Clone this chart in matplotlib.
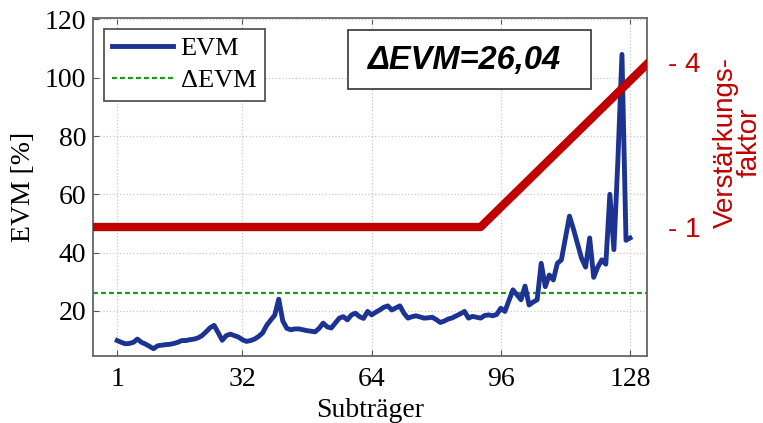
import matplotlib
matplotlib.use("Agg")
import matplotlib.pyplot as plt
from matplotlib.patches import Rectangle

# EVM per subcarrier
subcarriers = list(range(1, 129))
evm = [
    9.8, 9.2, 8.7, 8.8, 9.2, 10.3, 9.2, 8.6, 7.8, 7.0,
    8.0, 8.2, 8.4, 8.5, 8.8, 9.2, 9.8, 9.8, 10.1, 10.3,
    10.7, 11.5, 12.8, 14.2, 15.0, 12.5, 9.9, 11.5, 12.0, 11.5,
    11.0, 10.1, 9.5, 9.8, 10.3, 11.2, 12.4, 15.0, 16.8, 18.5,
    24.0, 16.5, 14.0, 13.5, 13.8, 13.8, 13.5, 13.2, 13.0, 12.8,
    14.0, 15.8, 14.5, 14.1, 15.8, 17.5, 18.0, 16.9, 18.6, 19.2,
    18.0, 17.4, 19.8, 18.6, 19.5, 20.3, 21.2, 21.7, 20.3, 21.0,
    21.7, 19.2, 17.5, 18.0, 18.3, 17.9, 17.5, 17.6, 17.8, 17.0,
    16.0, 16.5, 17.2, 17.6, 18.3, 19.0, 19.8, 17.5, 18.1, 17.8,
    17.5, 18.4, 18.6, 18.3, 18.8, 20.9, 19.8, 23.5, 27.2, 25.5,
    23.8, 28.5, 22.0, 23.0, 23.8, 36.3, 28.3, 32.3, 30.6, 36.3,
    37.5, 45.0, 52.5, 48.0, 43.0, 38.0, 35.0, 45.0, 31.5, 35.0,
    37.5, 36.0, 60.0, 41.0, 72.0, 108.0, 44.2, 45.0,
]
delta_evm = 26.04

# gain factor (right axis): flat, then rising
gain_x = [-10, 91, 133]
gain_y = [1, 1, 4.02]

xticks = [1, 32, 64, 96, 128]
yticks = [20, 40, 60, 80, 100, 120]
gain_ticks = [1, 4]
gain_ticklabels = ["- 1", "- 4"]

serif = ["Liberation Serif", "DejaVu Serif"]
sans = ["Liberation Sans", "DejaVu Sans"]
red = "#c00000"
blue = "#1c3391"

fig = plt.figure(figsize=(7.63, 4.23), dpi=100)
ax = fig.add_axes([93 / 763, 1 - 356 / 423, (647 - 93) / 763, (356 - 18) / 423])

ax.plot(subcarriers, evm, color=blue, lw=3.5, label="EVM", zorder=3)
ax.axhline(delta_evm, color="#1a9a1a", lw=1.6, ls=(0, (2.2, 1.4)), label="ΔEVM", zorder=2)

ax.set_xlim(-5, 132.2)
ax.set_ylim(4.5, 120.5)
ax.set_xticks(xticks)
ax.set_yticks(yticks)
ax.grid(True, color="#c8c8c8", ls=":", lw=0.9)
ax.tick_params(direction="in", top=True, right=True, length=4, color="#555555",
               labelsize=20, pad=5)
ax.tick_params(axis="x", pad=8)
for lab in ax.get_xticklabels() + ax.get_yticklabels():
    lab.set_family(serif)
for s in ax.spines.values():
    s.set_color("#666666")
    s.set_linewidth(1.3)

ax.set_xlabel("Subträger", family=serif, fontsize=20, labelpad=4)
ax.set_ylabel("EVM [%]", family=serif, fontsize=20, labelpad=6)

leg = ax.legend(loc="upper left", prop={"family": serif, "size": 19},
                fancybox=False, edgecolor="#555555", framealpha=1,
                handlelength=2.3, handletextpad=0.3, borderpad=0.32,
                labelspacing=0.32, borderaxespad=0.4)
leg.get_frame().set_linewidth(1.3)

ax2 = ax.twinx()
ax2.plot(gain_x, gain_y, color=red, lw=6, solid_capstyle="butt")
ax2.set_ylim(-1.345, 4.8)
ax2.set_yticks(gain_ticks)
ax2.set_yticklabels(gain_ticklabels, family=sans, fontsize=20, color=red)
ax2.tick_params(axis="y", length=0, pad=15)
for s in ax2.spines.values():
    s.set_visible(False)

fig.text(738 / 763, 1 - 142 / 423, "Verstärkungs-\nfaktor", rotation=90,
         ha="center", va="center", multialignment="center",
         family=sans, fontsize=20, color=red, linespacing=0.9)

# ΔEVM box
fig.patches.append(Rectangle((348 / 763, 1 - 89 / 423), 243 / 763, 59 / 423,
                             transform=fig.transFigure, facecolor="white",
                             edgecolor="#333333", lw=1.2, zorder=5))
fig.text(464 / 763, 1 - 60 / 423, "ΔEVM=26,04", ha="center", va="center",
         family=sans, fontsize=23.5, fontweight="bold", fontstyle="italic",
         color="black", zorder=6)

fig.savefig("out.png", dpi=100)
